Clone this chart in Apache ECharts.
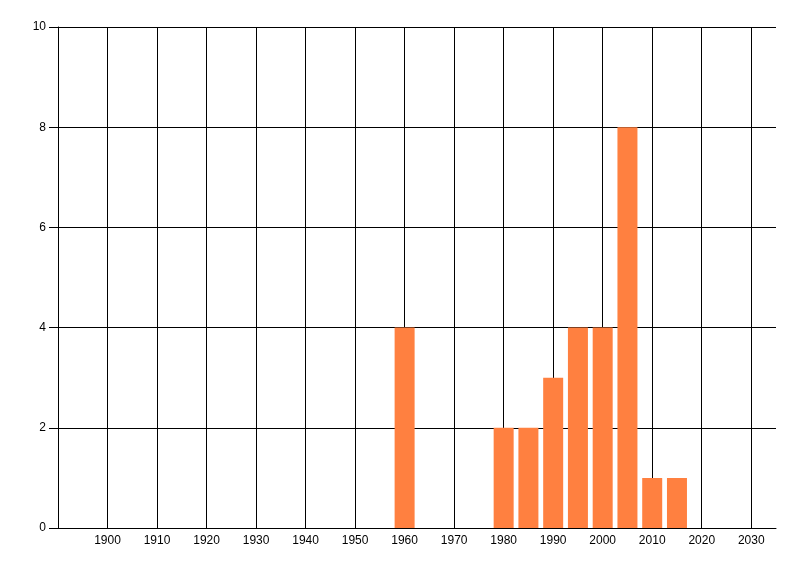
<!DOCTYPE html>
<html>
<head>
<meta charset="utf-8">
<script src="https://cdn.jsdelivr.net/npm/echarts@6/dist/echarts.min.js"></script>
<style>
  html, body { margin: 0; padding: 0; background: #fff; }
  #chart { width: 800px; height: 576px; }
</style>
</head>
<body>
<div id="chart"></div>
<script>
// Jahr -> Anzahl
const years = [1960, 1980, 1985, 1990, 1995, 2000, 2005, 2010, 2015];
const counts = [4, 2, 2, 3, 4, 4, 8, 1, 1];

const chart = echarts.init(document.getElementById("chart"));

const barData = years.map((y, i) => [y, counts[i]]);

const option = {
  animation: false,
  backgroundColor: "#ffffff",
  textStyle: { fontFamily: "Liberation Sans", fontSize: 12, color: "#000" },
  grid: {
    left: 58,
    right: 24,
    top: 27,
    bottom: 48
  },
  xAxis: {
    type: "value",
    min: 1890,
    max: 2035,
    interval: 10,
    axisLine: { show: true, onZero: false, lineStyle: { color: "#000", width: 1 } },
    axisTick: { show: false },
    axisLabel: {
      color: "#000",
      fontSize: 12,
      margin: 7,
      showMinLabel: false,
      showMaxLabel: false,
      formatter: v => String(v)
    },
    splitLine: {
      show: true,
      showMinLine: false,
      showMaxLine: false,
      lineStyle: { color: "#000", width: 1 }
    }
  },
  yAxis: {
    type: "value",
    min: 0,
    max: 10,
    interval: 2,
    axisLine: { show: true, lineStyle: { color: "#000", width: 1 } },
    axisTick: { show: true, length: 9, lineStyle: { color: "#000" } },
    axisLabel: { color: "#000", fontSize: 12, margin: 12 },
    splitLine: {
      show: true,
      lineStyle: { color: "#000", width: 1 }
    }
  },
  series: [
    {
      type: "bar",
      data: barData,
      barWidth: 20,
      itemStyle: { color: "#ff8040" }
    }
  ]
};

chart.setOption(option);
</script>
</body>
</html>
